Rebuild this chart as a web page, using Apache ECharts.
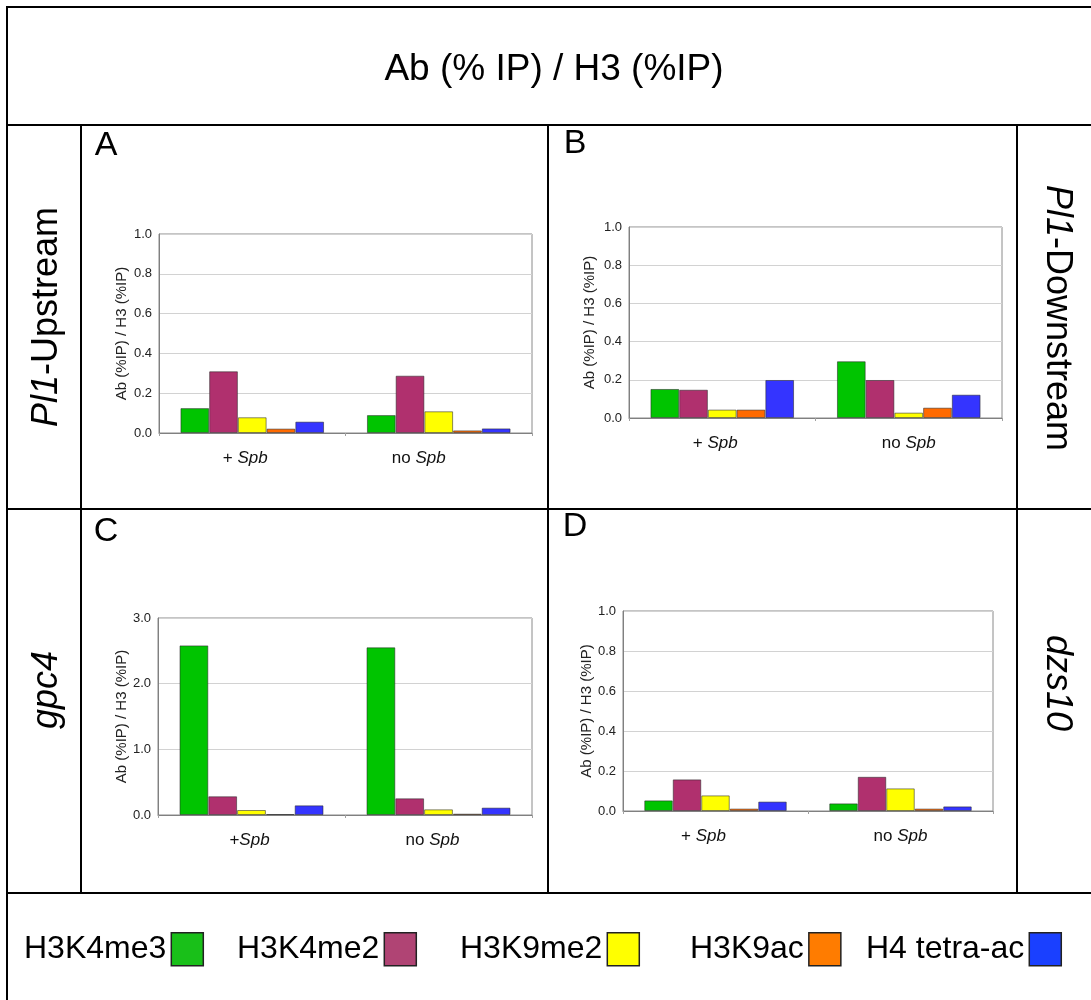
<!DOCTYPE html>
<html><head><meta charset="utf-8">
<script src="https://cdn.jsdelivr.net/npm/echarts@6/dist/echarts.min.js"></script>
<style>html,body{margin:0;padding:0;background:#fff}#c{width:1091px;height:1000px}</style>
</head><body><div id="c"></div>
<script>
// ---------- data ----------
const seriesNames = ['H3K4me3', 'H3K4me2', 'H3K9me2', 'H3K9ac', 'H4 tetra-ac'];
const categoriesABD = ['+ Spb', 'no Spb'];
const categoriesC = ['+Spb', 'no Spb'];
// values per series: [ +Spb, no Spb ]
const valuesA = [[0.125, 0.090], [0.310, 0.288], [0.079, 0.109], [0.022, 0.013], [0.057, 0.023]];
const valuesB = [[0.152, 0.297], [0.148, 0.199], [0.044, 0.028], [0.044, 0.054], [0.199, 0.122]];
const valuesC = [[2.583, 2.553], [0.285, 0.254], [0.076, 0.086], [0.015, 0.020], [0.147, 0.112]];
const valuesD = [[0.053, 0.038], [0.158, 0.171], [0.078, 0.113], [0.012, 0.012], [0.047, 0.023]];
const yMaxes = [1, 1, 3, 1];
const yIntervals = [0.2, 0.2, 1, 0.2];
const panelLetters = ['A', 'B', 'C', 'D'];
const yAxisTitle = 'Ab (%IP) / H3 (%IP)';
const mainTitle = 'Ab (% IP) / H3 (%IP)';

// ---------- styles / layout ----------
const FONT = 'Arial, "Liberation Sans", Helvetica, sans-serif';
const barColors = ['#00c400', '#b0306e', '#ffff00', '#ff6a00', '#3434ff'];
const legendColors = ['#19c019', '#b04474', '#ffff00', '#ff7c00', '#1a40ff'];
const panels = [
  { values: valuesA, cats: categoriesABD, grid: { left: 159, top: 234, width: 373, height: 199 }, nameGap: 30, shift: [7, 20] },
  { values: valuesB, cats: categoriesABD, grid: { left: 629, top: 227, width: 373, height: 191 }, nameGap: 32, shift: [7, 0] },
  { values: valuesC, cats: categoriesC,   grid: { left: 158, top: 618, width: 374, height: 197 }, nameGap: 27, shift: [2, 6] },
  { values: valuesD, cats: categoriesABD, grid: { left: 623, top: 611, width: 370, height: 200 }, nameGap: 26, shift: [12, 0] }
];

const grids = [], xAxes = [], yAxes = [], series = [];
panels.forEach((p, pi) => {
  grids.push(Object.assign({ show: true, borderColor: '#8a8a8a', borderWidth: 1, containLabel: false }, p.grid));
  xAxes.push({
    type: 'category', gridIndex: pi,
    data: p.cats.map((c, ci) => ({ value: c, textStyle: { padding: [0, 2 * p.shift[ci], 0, 0] } })),
    axisLine: { show: true, lineStyle: { color: '#808080', width: 1 } },
    axisTick: { show: true, length: 3, lineStyle: { color: '#a0a0a0' } },
    axisLabel: {
      margin: 17, fontSize: 17, color: '#111', fontFamily: FONT,
      formatter: v => v.replace('Spb', '{i|Spb}'),
      rich: { i: { fontStyle: 'italic', fontSize: 17, color: '#111', fontFamily: FONT } }
    }
  });
  yAxes.push({
    type: 'value', gridIndex: pi, min: 0, max: yMaxes[pi], interval: yIntervals[pi],
    name: yAxisTitle, nameLocation: 'middle', nameGap: p.nameGap, nameRotate: 90,
    nameTextStyle: { fontSize: 15, color: '#222', fontFamily: FONT },
    axisLine: { show: true, lineStyle: { color: '#808080' } },
    axisTick: { show: false },
    splitLine: { show: true, lineStyle: { color: '#d2d2d2', width: 1 } },
    axisLabel: { fontSize: 13, color: '#222', margin: 7, fontFamily: FONT, formatter: v => v.toFixed(1) }
  });
  p.values.forEach((vals, si) => {
    series.push({
      type: 'bar', name: seriesNames[si], xAxisIndex: pi, yAxisIndex: pi,
      data: vals, barGap: '0%', barCategoryGap: '23%',
      itemStyle: { color: barColors[si], borderColor: 'rgba(40,40,40,0.55)', borderWidth: 1 },
      emphasis: { disabled: true }, animation: false
    });
  });
});

const legendLefts = [24, 237, 460, 690, 866];
const legends = seriesNames.map((n, i) => ({
  data: [{ name: n, itemStyle: { color: legendColors[i], borderColor: '#222', borderWidth: 1.5 } }],
  left: legendLefts[i], top: 932, padding: 0, align: 'right', icon: 'rect',
  itemWidth: 32, itemHeight: 33, selectedMode: false,
  textStyle: { fontSize: 32, color: '#000', fontFamily: FONT }
}));

// table lines
const L = (x1, y1, x2, y2) => ({ type: 'line', silent: true, shape: { x1, y1, x2, y2 }, style: { stroke: '#000', lineWidth: 2 } });
const tableLines = [
  L(7, 7, 1091, 7), L(7, 6, 7, 1000),
  L(6, 125, 1091, 125), L(6, 509, 1091, 509), L(6, 893, 1091, 893),
  L(81, 125, 81, 893), L(548, 125, 548, 893), L(1017, 125, 1017, 893)
];
const T = (text, x, y, size, opts) => Object.assign({
  type: 'text', silent: true, x, y,
  style: Object.assign({ text, fontSize: size, fontFamily: FONT, fill: '#000',
    align: 'center', verticalAlign: 'middle', textAlign: 'center', textVerticalAlign: 'middle',
    rich: { i: { fontStyle: 'italic', fontSize: size, fontFamily: FONT, fill: '#000' } } }, (opts && opts.style) || {})
}, (opts && opts.el) || {});
const letterPos = [[106, 146], [575, 144], [106, 532], [575, 527]];
const texts = [
  T(mainTitle, 554, 70, 37),
  ...panelLetters.map((l, i) => T(l, letterPos[i][0], letterPos[i][1], 34)),
  T('{i|Pl1}-Upstream', 47, 317, 36, { el: { rotation: Math.PI / 2 } }),
  T('{i|Pl1}-Downstream', 1057, 318, 36, { el: { rotation: -Math.PI / 2 } }),
  T('{i|gpc4}', 47, 690, 36, { el: { rotation: Math.PI / 2 } }),
  T('{i|dzs10}', 1057, 683, 36, { el: { rotation: -Math.PI / 2 } })
];

const chart = echarts.init(document.getElementById('c'), null, { renderer: 'canvas' });
chart.setOption({
  animation: false,
  backgroundColor: '#fff',
  grid: grids, xAxis: xAxes, yAxis: yAxes, series,
  legend: legends,
  graphic: { elements: [...tableLines, ...texts] }
});
</script></body></html>
